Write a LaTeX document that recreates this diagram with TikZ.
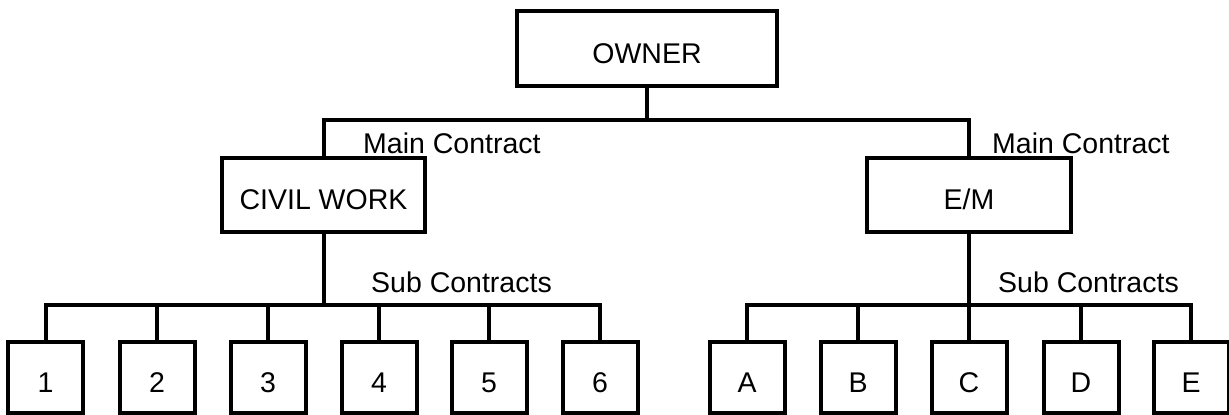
\documentclass[tikz,border=0pt]{standalone}
\usepackage{fontspec}
\setmainfont{Liberation Sans}
\begin{document}
\begin{tikzpicture}[x=1pt,y=-1pt,
  every node/.style={font=\fontsize{28.5}{34}\selectfont},
  orgbox/.style={draw,line width=4pt,rectangle,inner sep=0pt,text height=29pt,text depth=0pt},
  subbox/.style={orgbox,minimum width=75pt,minimum height=71pt},
  conn/.style={line width=4pt,line join=miter,line cap=rect},
  lbl/.style={anchor=base west,inner sep=0pt}]
\useasboundingbox (0,0) rectangle (1229,415);
% top boxes
\node[orgbox,minimum width=260pt,minimum height=75pt] (owner) at (647,48.5) {OWNER};
\node[orgbox,minimum width=203pt,minimum height=74pt] (civil) at (323.5,195) {CIVIL WORK};
\node[orgbox,minimum width=204pt,minimum height=74pt] (em) at (969,195) {E/M};
% sub boxes
\foreach \n/\x in {1/45.5,2/157,3/268,4/379,5/489,6/600}
  \node[subbox] (c\n) at (\x,377.5) {\n};
\foreach \n/\x in {A/747,B/858,C/969,D/1081,E/1191}
  \node[subbox] (e\n) at (\x,377.5) {\n};
% connectors
\coordinate (mainbus) at (647,120);
\coordinate (civbus) at (323.5,305);
\coordinate (embus) at (969,305);
\draw[conn] (owner.south) -- (mainbus);
\draw[conn] (civil.north) |- (mainbus) -| (em.north);
\draw[conn] (civil.south) -- (civbus);
\draw[conn] (c1.north) |- (civbus) -| (c6.north);
\foreach \n in {2,3,4,5} \draw[conn] (c\n.north) -- (c\n.north |- civbus);
\draw[conn] (em.south) -- (embus);
\draw[conn] (eA.north) |- (embus) -| (eE.north);
\foreach \n in {B,C,D} \draw[conn] (e\n.north) -- (e\n.north |- embus);
% labels
\node[lbl] (mc1) at (363,153) {Main Contract};
\node[lbl] (mc2) at (992,153) {Main Contract};
\node[lbl] (sc1) at (371,292) {Sub Contracts};
\node[lbl] (sc2) at (998,292) {Sub Contracts};
\end{tikzpicture}
\end{document}
